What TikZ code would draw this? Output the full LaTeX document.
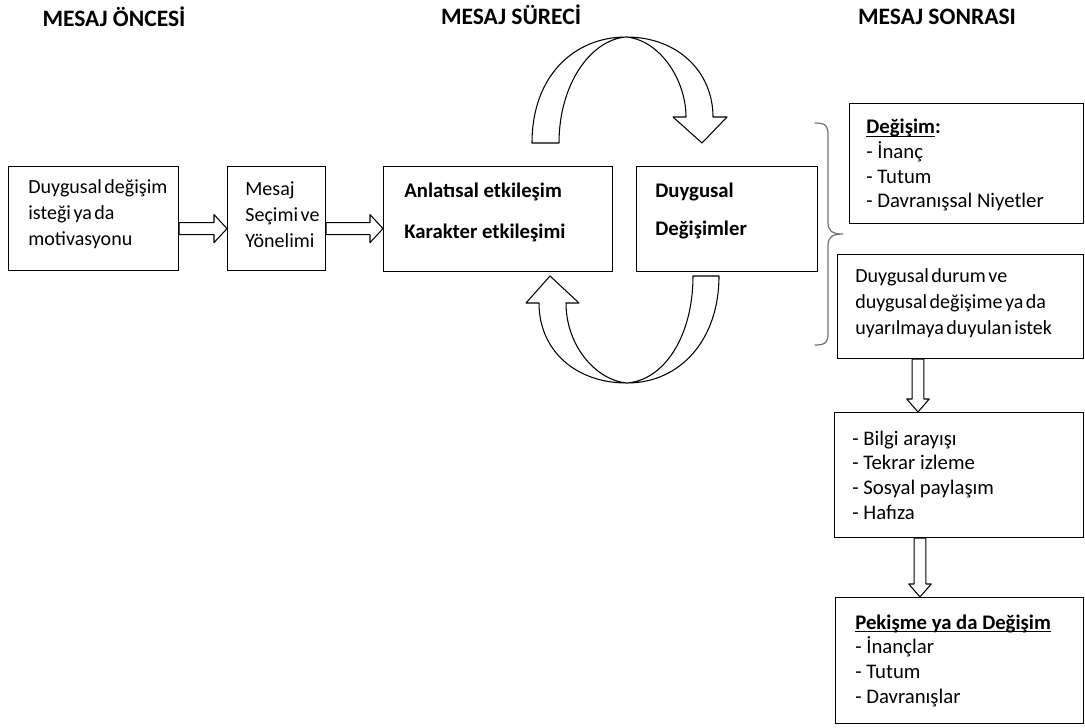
\documentclass[tikz,border=0pt]{standalone}
\usepackage{fontspec}
\setmainfont{Carlito}
\newfontfamily\tightfamily{Carlito}[WordSpace=0.55]
\usetikzlibrary{calc}

\newcommand\bodyfont{\fontsize{11.8}{14.1}\selectfont}
\newcommand\tightfont{\tightfamily\fontsize{11.4}{14.8}\selectfont}
\newcommand\titlefont{\fontsize{13.4}{16}\selectfont\bfseries}
\newcommand\uln[1]{\underline{\smash{#1}}}

\tikzset{
  box/.style={draw,line width=0.7pt,anchor=north west,inner sep=0pt},
  txt/.style={anchor=west,align=left,inner sep=0pt,font=\bodyfont},
  title/.style={font=\titlefont},
  shape line/.style={draw,line width=0.6pt,line join=round},
  hollowright/.style={shape line,to path={let \p1=(\tikztostart),\p2=(\tikztotarget) in
    (\x1,\y1+3.4pt) -- (\x2-7.4pt,\y1+3.4pt) -- (\x2-7.4pt,\y1+8pt) -- (\x2,\y1)
    -- (\x2-7.4pt,\y1-8pt) -- (\x2-7.4pt,\y1-3.4pt) -- (\x1,\y1-3.4pt) -- cycle}},
  hollowdown/.style={shape line,to path={let \p1=(\tikztostart),\p2=(\tikztotarget) in
    (\x1-3.3pt,\y1) -- (\x1-3.3pt,\y2+7.4pt) -- (\x1-6.4pt,\y2+7.4pt) -- (\x1,\y2)
    -- (\x1+6.4pt,\y2+7.4pt) -- (\x1+3.3pt,\y2+7.4pt) -- (\x1+3.3pt,\y1) -- cycle}}
}

\begin{document}
\begin{tikzpicture}[x=0.02cm,y=-0.02cm,line cap=round]
\useasboundingbox (0,0) rectangle (1085,727);

% column titles
\node[title] (t1) at (114,17) {MESAJ ÖNCESİ};
\node[title] (t2) at (511,15) {MESAJ SÜRECİ};
\node[title] (t3) at (937,17) {MESAJ SONRASI};

% message flow
\node[box,minimum width=3.4cm,minimum height=2.08cm] (b1) at (8,166) {};
\node[txt,font=\tightfont] (b1t) at ([xshift=0.4cm,yshift=0.08cm]b1.west)
  {Duygusal değişim\\isteği ya da\\motivasyonu};
\node[box,minimum width=1.96cm,minimum height=2.08cm] (b2) at (227,166) {};
\node[txt,font=\tightfont] (b2t) at ([xshift=0.36cm,yshift=0.08cm]b2.west)
  {Mesaj\\Seçimi ve\\Yönelimi};
\node[box,minimum width=4.58cm,minimum height=2.1cm] (b3) at (383,166) {};
\node[txt] (b3t) at ([xshift=0.42cm,yshift=0.14cm]b3.west)
  {\textbf{Anlatısal etkileşim}\\[9.3pt]\textbf{Karakter etkileşimi}};
\node[box,minimum width=3.62cm,minimum height=2.1cm] (b4) at (636,166) {};
\node[txt] (b4t) at ([xshift=0.38cm,yshift=0.17cm]b4.west)
  {\textbf{Duygusal}\\[7.5pt]\textbf{Değişimler}};

\draw[hollowright] ([yshift=-0.2cm]b1.east) to (b2.west);
\draw[hollowright] ([yshift=-0.2cm]b2.east) to (b3.west);

% loop between b3 and b4
\draw[shape line] (532,143) -- (559,143)
  .. controls (559,85) and (590,40) .. (626,37)
  .. controls (660,40) and (686,80) .. (686,117)
  -- (673,117) -- (702,143) -- (727,117) -- (713,117)
  .. controls (713,72) and (678,37) .. (626,37)
  .. controls (575,37) and (532,75) .. (532,143) -- cycle;
\draw[shape line] (719,276) -- (693,276)
  .. controls (693,335) and (665,380) .. (627,383)
  .. controls (595,380) and (566,345) .. (566,303)
  -- (579,303) -- (550,276) -- (526,303) -- (539,303)
  .. controls (539,350) and (575,383) .. (627,383)
  .. controls (680,383) and (719,340) .. (719,276) -- cycle;

% after the message
\node[box,minimum width=4.68cm,minimum height=2.4cm] (b5) at (849,103) {};
\node[txt] (b5t) at ([xshift=0.34cm,yshift=-0.08cm]b5.west)
  {\textbf{\uln{Değişim}:}\\- İnanç\\- Tutum\\- Davranışsal Niyetler};
\node[box,minimum width=4.92cm,minimum height=2.08cm] (b6) at (837,254) {};
\node[txt,font=\tightfont,text depth=0pt] (b6t) at ([xshift=0.36cm,yshift=0.1cm]b6.west)
  {Duygusal durum ve\\duygusal değişime ya da\\uyarılmaya duyulan istek};
\node[box,minimum width=4.98cm,minimum height=2.5cm] (b7) at (834,412) {};
\node[txt] (b7t) at ([xshift=0.36cm]b7.west)
  {- Bilgi arayışı\\- Tekrar izleme\\- Sosyal paylaşım\\- Hafıza};
\node[box,minimum width=4.96cm,minimum height=2.52cm] (b8) at (835,597) {};
\node[txt] (b8t) at ([xshift=0.4cm,yshift=-0.15cm]b8.west)
  {\textbf{\uln{Pekişme ya da Değişim}}\\- İnançlar\\- Tutum\\- Davranışlar};

\draw[black!55,line width=0.7pt] (815,123) .. controls (826,123) and (828,126) .. (828,135)
  -- (828,222) .. controls (828,231) and (832,234) .. (843,234)
  .. controls (832,234) and (828,237) .. (828,246)
  -- (828,333) .. controls (828,342) and (826,345) .. (815,345);

\draw[hollowdown] ([xshift=1.62cm]b6.south west) to (b7.north);
\draw[hollowdown] ([xshift=1.72cm]b7.south west) to (b8.north);
\end{tikzpicture}
\end{document}
